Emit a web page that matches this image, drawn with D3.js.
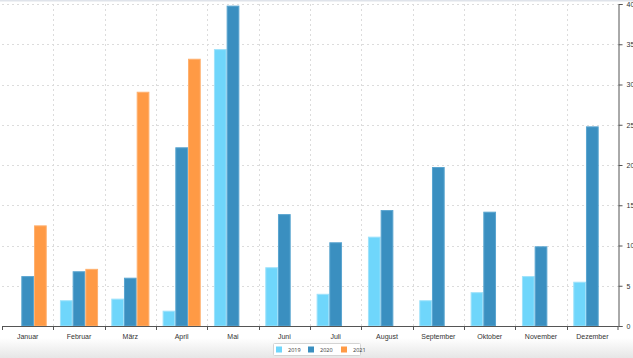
<!DOCTYPE html>
<html><head><meta charset="utf-8">
<script src="https://cdn.jsdelivr.net/npm/d3@7"></script>
<style>
html,body{margin:0;padding:0;background:#fff;overflow:hidden;}
svg{display:block;font-family:"Open Sans","Lato",sans-serif;}
</style></head>
<body>
<svg id="chart" width="633" height="358"></svg>
<script>
const months = ["Januar","Februar","März","April","Mai","Juni","Juli","August","September","Oktober","November","Dezember"];
const seriesNames = ["2019","2020","2021"];
const values2019 = [0, 3.2, 3.4, 1.9, 34.4, 7.3, 4.0, 11.1, 3.2, 4.2, 6.2, 5.5];
const values2020 = [6.2, 6.8, 6.0, 22.2, 39.8, 13.9, 10.4, 14.4, 19.75, 14.2, 9.9, 24.8];
const values2021 = [12.5, 7.1, 29.1, 33.2, null, null, null, null, null, null, null, null];
const yTicks = [0,5,10,15,20,25,30,35,40];
const colors = ["#6fd6fb","#3a8fc0","#ff9a45"];
const strokes = ["#9fe2fb","#5aa5d0","#ffb06e"];

const allSeries = [values2019, values2020, values2021];
const svg = d3.select("#chart");
const W = 633, H = 358;
const m = {left:2, right:15, top:4, bottom:32};
const x0 = d3.scaleBand().domain(months).range([m.left, W - m.right]).paddingInner(0).paddingOuter(0);
const x1 = d3.scaleBand().domain(seriesNames).range([0, x0.bandwidth()]).paddingInner(0).paddingOuter(0.52);
const y = d3.scaleLinear().domain([0,40]).range([H - m.bottom, m.top]);

// bottom shade
const defs = svg.append("defs");
const g1 = defs.append("linearGradient").attr("id","shade").attr("x1",0).attr("y1",0).attr("x2",0).attr("y2",1);
g1.append("stop").attr("offset","0%").attr("stop-color","#ffffff");
g1.append("stop").attr("offset","100%").attr("stop-color","#e6e6e6");
svg.append("rect").attr("x",0).attr("y",338).attr("width",W).attr("height",20).attr("fill","url(#shade)");
svg.append("rect").attr("x",0).attr("y",0).attr("width",W).attr("height",1.5).attr("fill","#dfe3ea");

// grid
const grid = svg.append("g").attr("stroke","#dcdcdc").attr("stroke-dasharray","2,3").attr("stroke-width",1);
yTicks.filter(t=>t>0).forEach(t=>{
  grid.append("line").attr("x1",m.left).attr("x2",W-m.right).attr("y1",Math.round(y(t))+0.5).attr("y2",Math.round(y(t))+0.5);
});
months.forEach((mo,i)=>{
  if(i===0) return;
  const xx = Math.round(x0(mo))+0.5;
  grid.append("line").attr("x1",xx).attr("x2",xx).attr("y1",m.top).attr("y2",y(0));
});

// bars
const data = months.map((mo,i)=>({month:mo, vals: seriesNames.map((s,j)=>({s, j, v: allSeries[j][i]}))}));
const groups = svg.append("g").selectAll("g").data(data).join("g").attr("transform",d=>`translate(${x0(d.month)},0)`);
groups.selectAll("rect").data(d=>d.vals.filter(v=>v.v!=null && v.v>0)).join("rect")
  .attr("x",d=>x1(d.s)+0.5)
  .attr("width",x1.bandwidth()-1)
  .attr("y",d=>y(d.v)+0.5)
  .attr("height",d=>y(0)-y(d.v)-0.5)
  .attr("fill",d=>colors[d.j])
  .attr("stroke",d=>strokes[d.j])
  .attr("stroke-width",1);

// x axis
const xAxis = d3.axisBottom(x0).tickSize(0).tickPadding(8);
const gx = svg.append("g").attr("transform",`translate(0,${y(0)})`).call(xAxis);
gx.select(".domain").attr("stroke","#555");
gx.selectAll("text").attr("font-size",7).attr("fill","#333");
const xt = svg.append("g").attr("stroke","#555");
months.concat(["_end"]).forEach((mo,i)=>{
  const xx = i<12 ? Math.round(x0(mo))+0.5 : W-m.right;
  xt.append("line").attr("x1",xx).attr("x2",xx).attr("y1",y(0)).attr("y2",y(0)+4);
});

// y axis right
const yAxis = d3.axisRight(y).tickValues(yTicks).tickSize(4).tickPadding(4);
const gy = svg.append("g").attr("transform",`translate(${W-m.right+0.5},0)`).call(yAxis);
gy.select(".domain").attr("stroke","#555");
gy.selectAll(".tick line").attr("stroke","#555");
gy.selectAll("text").attr("font-size",7).attr("fill","#333");

// legend
const lg = svg.append("g");
lg.append("rect").attr("x",273.5).attr("y",343.5).attr("width",87).attr("height",12).attr("fill","#fff").attr("stroke","#d4d4d4").attr("rx",1);
const lx = [276, 308, 341];
seriesNames.forEach((s,i)=>{
  lg.append("rect").attr("x",lx[i]).attr("y",346.5).attr("width",6).attr("height",6).attr("fill",colors[i]);
  lg.append("text").attr("x",lx[i]+12).attr("y",352).attr("font-size",5.5).attr("fill","#333").text(s);
});
</script>
</body></html>
